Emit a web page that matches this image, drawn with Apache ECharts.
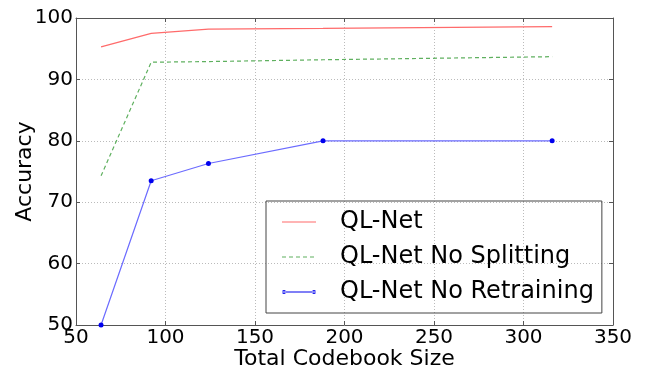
<!DOCTYPE html>
<html>
<head>
<meta charset="utf-8">
<script src="https://cdn.jsdelivr.net/npm/echarts@6/dist/echarts.min.js"></script>
<style>html,body{margin:0;padding:0;background:#fff}#c{width:652px;height:372px}</style>
</head>
<body>
<div id="c"></div>
<script>
const codebookSizes = [64, 92, 124, 188, 316];
const qlNet = [95.3, 97.5, 98.2, 98.3, 98.6];
const qlNetNoSplitting = [74.3, 92.8, 92.9, 93.2, 93.7];
const qlNetNoRetraining = [50, 73.5, 76.3, 80.0, 80.0];
const seriesNames = ['QL-Net', 'QL-Net No Splitting', 'QL-Net No Retraining'];
const xTicks = {min: 50, max: 350, interval: 50};
const yTicks = {min: 50, max: 100, interval: 10};

const pair = (xs, ys) => xs.map((x, i) => [x, ys[i]]);
const font = 'DejaVu Sans';
const axisCol = '#555';

const chart = echarts.init(document.getElementById('c'));
const baseAxis = {
  axisLine: {show: true, lineStyle: {color: axisCol, width: 1}},
  axisTick: {show: true, inside: true, length: 4, lineStyle: {color: axisCol}},
  splitLine: {show: false}
};
chart.setOption({
  animation: false,
  grid: {left: 76, right: 39, top: 18, bottom: 47, outerBoundsMode: 'none', containLabel: false},
  xAxis: [
    Object.assign({}, baseAxis, {
      type: 'value', min: xTicks.min, max: xTicks.max, interval: xTicks.interval,
      name: 'Total Codebook Size', nameLocation: 'middle', nameGap: 23, nameMoveOverlap: false,
      nameTextStyle: {fontFamily: font, fontSize: 22, color: '#000'},
      axisLabel: {fontFamily: font, fontSize: 20, color: '#000', margin: 3},
      splitLine: {show: true, lineStyle: {color: '#bbb', type: [1, 2], width: 1}}
    }),
    Object.assign({}, baseAxis, {
      type: 'value', position: 'top', min: xTicks.min, max: xTicks.max, interval: xTicks.interval,
      axisLabel: {show: false}
    })
  ],
  yAxis: [
    Object.assign({}, baseAxis, {
      type: 'value', min: yTicks.min, max: yTicks.max, interval: yTicks.interval,
      name: 'Accuracy', nameLocation: 'middle', nameGap: 40, nameMoveOverlap: false,
      nameTextStyle: {fontFamily: font, fontSize: 22, color: '#000'},
      axisLabel: {fontFamily: font, fontSize: 20, color: '#000', margin: 3},
      splitLine: {show: true, lineStyle: {color: '#bbb', type: [1, 2], width: 1}}
    }),
    Object.assign({}, baseAxis, {
      type: 'value', position: 'right', min: yTicks.min, max: yTicks.max, interval: yTicks.interval,
      axisLabel: {show: false}
    })
  ],
  legend: {
    orient: 'vertical', left: 266, top: 201,
    padding: [9, 8, 9, 16],
    itemGap: 11, itemWidth: 34, itemHeight: 8,
    borderColor: '#444', borderWidth: 1, borderRadius: 0,
    textStyle: {fontFamily: font, fontSize: 24, color: '#000', lineHeight: 24, padding: [0, 0, 0, 19]},
    data: [
      {name: seriesNames[0], icon: 'path://M0,3.4h34v1.2h-34z'},
      {name: seriesNames[1], icon: 'path://M0,3.4h4v1.2h-4zM7,3.4h4v1.2h-4zM14,3.4h4v1.2h-4zM21,3.4h4v1.2h-4zM28,3.4h4v1.2h-4zM0,0h0.01v0.01h-0.01zM34,8h-0.01v-0.01h0.01z'},
      {name: seriesNames[2], icon: 'path://M0,3.4h34v1.2h-34zM0,4a2,2 0 1,0 4,0a2,2 0 1,0 -4,0zM30,4a2,2 0 1,0 4,0a2,2 0 1,0 -4,0z'}
    ]
  },
  series: [
    {
      name: seriesNames[0], type: 'line', data: pair(codebookSizes, qlNet),
      showSymbol: false, symbol: 'none',
      lineStyle: {color: '#ff6b6b', width: 1.2}, itemStyle: {color: '#ff6b6b'}
    },
    {
      name: seriesNames[1], type: 'line', data: pair(codebookSizes, qlNetNoSplitting),
      showSymbol: false, symbol: 'none',
      lineStyle: {color: '#5fb05f', width: 1.2, type: [4, 3]}, itemStyle: {color: '#5fb05f'}
    },
    {
      name: seriesNames[2], type: 'line', data: pair(codebookSizes, qlNetNoRetraining),
      symbol: 'circle', symbolSize: 5, clip: false,
      lineStyle: {color: '#6b6bff', width: 1.2}, itemStyle: {color: '#0000ee'}
    }
  ]
});
</script>
</body>
</html>
